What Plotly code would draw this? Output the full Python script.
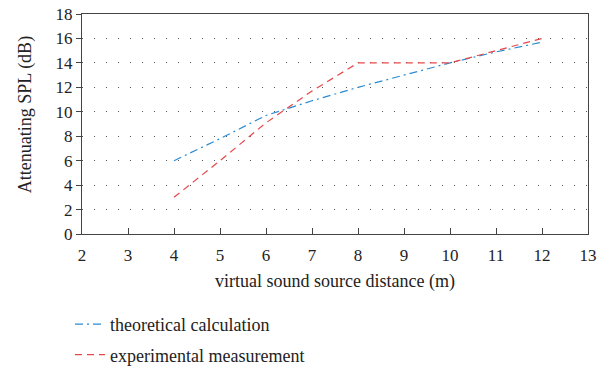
import plotly.graph_objects as go

distance = [4, 5, 6, 7, 8, 9, 10, 11, 12]
theoretical = [6.0, 7.8, 9.7, 10.9, 12.0, 13.0, 14.0, 14.9, 15.7]
experimental = [3.0, 6.0, 9.1, 11.7, 14.0, 14.0, 14.0, 15.0, 16.0]
x_ticks = list(range(2, 14))
y_ticks = list(range(0, 19, 2))

FONT = "Liberation Serif"
BLUE = "#2b8bd1"
RED = "#e5484b"

fig = go.Figure()
fig.add_trace(go.Scatter(
    x=distance, y=theoretical, mode="lines", name="theoretical calculation",
    line=dict(color=BLUE, width=1.2, dash="8px,4px,2px,4px"), legendgroup="a"))
fig.add_trace(go.Scatter(
    x=distance, y=experimental, mode="lines", name="experimental measurement",
    line=dict(color=RED, width=1.2, dash="7px,5px"), legendgroup="b"))

fig.update_layout(
    width=611, height=370,
    margin=dict(l=82, r=23, t=14, b=136, autoexpand=False),
    paper_bgcolor="white", plot_bgcolor="white",
    font=dict(family=FONT, size=17, color="#222"),
    showlegend=True,
    legend=dict(x=70 / 611, y=1 - 306 / 370, xref="container", yref="container",
                xanchor="left", yanchor="top",
                orientation="v", traceorder="grouped", tracegroupgap=4,
                font=dict(family=FONT, size=18, color="#222"),
                bgcolor="rgba(0,0,0,0)", itemwidth=30),
    xaxis=dict(range=[2, 13], tickmode="array", tickvals=x_ticks,
               ticks="inside", ticklen=6, tickcolor="#444",
               showline=True, linecolor="#444", linewidth=1.3, mirror=True,
               showgrid=False, zeroline=False, ticklabelstandoff=5,
               title=dict(text="virtual sound source distance (m)",
                          font=dict(family=FONT, size=18), standoff=10),
               tickfont=dict(family=FONT, size=17)),
    yaxis=dict(range=[0, 18], tickmode="array", tickvals=y_ticks,
               ticks="outside", ticklen=5, tickcolor="#444",
               showline=True, linecolor="#444", linewidth=1.3, mirror=True,
               showgrid=True, gridcolor="#555", gridwidth=1, griddash="1px,11px",
               zeroline=False,
               tickfont=dict(family=FONT, size=17)),
    annotations=[dict(text="Attenuating SPL (dB)", textangle=-90,
                      xref="paper", yref="paper", x=(25 - 82) / 506, y=0.54,
                      xanchor="center", yanchor="middle", showarrow=False,
                      font=dict(family=FONT, size=18, color="#222"))],
)

fig.write_html("out.html")
